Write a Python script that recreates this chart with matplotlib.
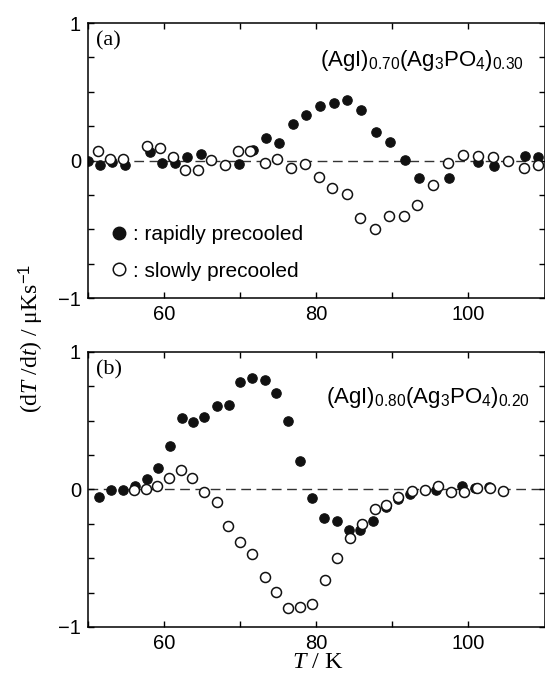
"""Cooling-rate dependence of dT/dt for two AgI-Ag3PO4 glasses."""
import matplotlib
matplotlib.use("Agg")
import matplotlib.pyplot as plt
from matplotlib.lines import Line2D

plt.rcParams["font.family"] = ["Liberation Sans", "DejaVu Sans"]
plt.rcParams["mathtext.fontset"] = "custom"
plt.rcParams["mathtext.rm"] = "Liberation Sans"
plt.rcParams["mathtext.it"] = "Liberation Serif:italic"

# panel (a): (AgI)0.70(Ag3PO4)0.30
a_rapid_T = [50.0, 51.55, 53.2, 54.8, 58.1, 59.7, 61.4, 63.05, 64.8, 69.8, 71.7,
             73.4, 75.1, 76.9, 78.7, 80.5, 82.3, 84.1, 85.9, 87.85, 89.7, 91.6,
             93.5, 97.4, 101.3, 103.3, 107.4, 109.1]
a_rapid_v = [0.0, -0.034, -0.012, -0.034, 0.065, -0.015, -0.015, 0.024, 0.046,
             -0.027, 0.08, 0.167, 0.13, 0.263, 0.333, 0.40, 0.42, 0.437, 0.367,
             0.21, 0.138, 0.005, -0.128, -0.128, -0.012, -0.043, 0.036, 0.029]
a_slow_T = [51.3, 52.9, 54.6, 57.8, 59.5, 61.2, 62.8, 64.5, 66.2, 68.0, 69.7,
            71.3, 73.2, 74.9, 76.7, 78.5, 80.4, 82.1, 84.0, 85.8, 87.7, 89.6,
            91.5, 93.3, 95.3, 97.3, 99.3, 101.3, 103.2, 105.2, 107.3, 109.1]
a_slow_v = [0.068, 0.01, 0.012, 0.106, 0.089, 0.024, -0.068, -0.068, 0.005,
            -0.031, 0.072, 0.068, -0.015, 0.01, -0.056, -0.026, -0.123, -0.2,
            -0.24, -0.42, -0.495, -0.406, -0.406, -0.326, -0.181, -0.019, 0.04,
            0.035, 0.029, -0.007, -0.056, -0.036]

# panel (b): (AgI)0.80(Ag3PO4)0.20
b_rapid_T = [51.5, 53.0, 54.6, 56.2, 57.7, 59.2, 60.75, 62.3, 63.8, 65.3, 66.9,
             68.5, 70.0, 71.6, 73.2, 74.7, 76.3, 77.9, 79.45, 81.05, 82.7, 84.3,
             85.8, 87.5, 89.2, 90.7, 92.3, 95.7, 99.1, 100.9, 102.7]
b_rapid_v = [-0.053, -0.007, -0.007, 0.024, 0.073, 0.158, 0.315, 0.52, 0.49,
             0.526, 0.61, 0.613, 0.783, 0.812, 0.798, 0.703, 0.495, 0.204, -0.06,
             -0.206, -0.23, -0.298, -0.298, -0.23, -0.13, -0.07, -0.036, -0.007,
             0.024, 0.012, 0.015]
b_slow_T = [56.1, 57.6, 59.1, 60.6, 62.2, 63.7, 65.3, 66.9, 68.4, 70.0, 71.6,
            73.2, 74.7, 76.3, 77.9, 79.5, 81.1, 82.75, 84.4, 86.0, 87.7, 89.2,
            90.8, 92.6, 94.3, 96.0, 97.7, 99.4, 101.1, 102.8, 104.6]
b_slow_v = [-0.007, 0.0, 0.022, 0.08, 0.14, 0.08, -0.019, -0.09, -0.267, -0.383,
            -0.468, -0.635, -0.747, -0.86, -0.855, -0.83, -0.66, -0.497, -0.356,
            -0.25, -0.145, -0.116, -0.056, -0.012, -0.007, 0.024, -0.019, -0.019,
            0.012, 0.012, -0.012]

x_ticks = [50, 60, 70, 80, 90, 100, 110]
x_labels = ["", "60", "", "80", "", "100", ""]
y_ticks = [-1, -0.75, -0.5, -0.25, 0, 0.25, 0.5, 0.75, 1]
y_labels = ["\u22121", "", "", "", "0", "", "", "", "1"]


def draw_panel(axis, rapid_T, rapid_v, slow_T, slow_v, tag, formula, fx, fy):
    axis.axhline(0, color="#333333", lw=1.0, dashes=(7, 4), zorder=1)
    axis.plot(rapid_T, rapid_v, "o", ms=6.8, mfc="#111111", mec="#111111",
              mew=0.8, zorder=2, clip_on=True)
    axis.plot(slow_T, slow_v, "o", ms=7.2, mfc="white", mec="#111111",
              mew=1.1, zorder=3, clip_on=True)
    axis.set_xlim(50, 110)
    axis.set_ylim(-1, 1)
    axis.set_xticks(x_ticks, x_labels)
    axis.set_yticks(y_ticks, y_labels)
    axis.tick_params(direction="in", top=True, right=True, length=4.5,
                     width=1.0, labelsize=14.5, pad=5)
    for spine in axis.spines.values():
        spine.set_linewidth(1.1)
    axis.text(0.018, 0.97, tag, transform=axis.transAxes, ha="left", va="top",
              family="Liberation Serif", fontsize=16)
    axis.text(fx, fy, formula, transform=axis.transAxes, ha="right",
              va="center", fontsize=16)


figure = plt.figure(figsize=(5.45, 6.77), dpi=100)
ax_a = figure.add_axes([0.1615, 0.5598, 0.8376, 0.4062])
ax_b = figure.add_axes([0.1615, 0.0739, 0.8376, 0.4062])

draw_panel(ax_a, a_rapid_T, a_rapid_v, a_slow_T, a_slow_v, "(a)",
           r"(AgI)$_{0.70}$(Ag$_3$PO$_4$)$_{0.30}$", 0.956, 0.865)
draw_panel(ax_b, b_rapid_T, b_rapid_v, b_slow_T, b_slow_v, "(b)",
           r"(AgI)$_{0.80}$(Ag$_3$PO$_4$)$_{0.20}$", 0.968, 0.833)

handles = [
    Line2D([], [], ls="none", marker="o", ms=9, mfc="#111111", mec="#111111"),
    Line2D([], [], ls="none", marker="o", ms=9, mfc="white", mec="#111111",
           mew=1.1),
]
ax_a.legend(handles, [": rapidly precooled", ": slowly precooled"],
            loc="center left", bbox_to_anchor=(0.025, 0.164), frameon=False,
            handlelength=0.9, handletextpad=0.2, labelspacing=0.85,
            fontsize=15, borderpad=0)

figure.text(0.057, 0.50, "(d$T$ /d$t$) / \u03bcKs$^{-1}$", rotation=90,
            ha="center", va="center", family="Liberation Serif", fontsize=17)
figure.text(0.583, 0.021, "$T$ / K", ha="center", va="center",
            family="Liberation Serif", fontsize=17.5)

figure.savefig("out.png", dpi=100, facecolor="white")
